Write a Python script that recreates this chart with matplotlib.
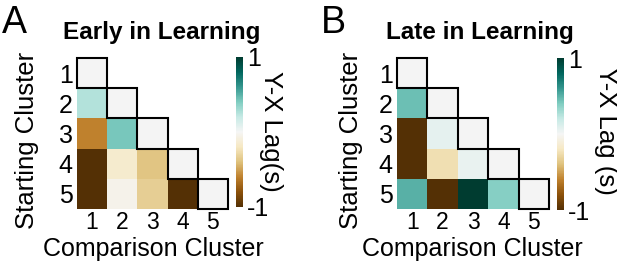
import numpy as np
import matplotlib
matplotlib.use("Agg")
import matplotlib.pyplot as plt
from matplotlib.patches import Rectangle

plt.rcParams['font.family'] = ['Liberation Sans', 'DejaVu Sans']

clusters = ["1", "2", "3", "4", "5"]
nan = np.nan
early_lag = [
    [0.0, nan, nan, nan, nan],
    [0.25, 0.0, nan, nan, nan],
    [-0.6, 0.42, 0.0, nan, nan],
    [-1.0, -0.15, -0.38, 0.0, nan],
    [-1.0, -0.04, -0.33, -1.0, 0.0],
]
late_lag = [
    [0.0, nan, nan, nan, nan],
    [0.45, 0.0, nan, nan, nan],
    [-1.0, 0.07, 0.0, nan, nan],
    [-1.0, -0.25, 0.05, 0.0, nan],
    [0.5, -1.0, 1.0, 0.38, 0.0],
]
titles = ["Early in Learning", "Late in Learning"]
panel_letters = ["A", "B"]
cbar_labels = ["Y-X Lag(s)", "Y-X Lag (s)"]

W, H = 617, 265
fig = plt.figure(figsize=(W / 100, H / 100), dpi=100)

def px_axes(x0, y0, x1, y1):
    return fig.add_axes([x0 / W, 1 - y1 / H, (x1 - x0) / W, (y1 - y0) / H])

cmap = plt.get_cmap("BrBG").copy()
cmap.set_bad("white")

layouts = [
    dict(ax=(77, 58, 228, 209), cax=(236, 57, 243, 207), letter=(14, 23), title=162,
         ylab=27, xlab=153, clab=271),
    dict(ax=(397, 58, 549, 209), cax=(557, 58, 564, 210), letter=(333, 23), title=480,
         ylab=351, xlab=472, clab=606),
]

for data, title, letter, clab, L in zip([early_lag, late_lag], titles, panel_letters,
                                         cbar_labels, layouts):
    ax = px_axes(*L["ax"])
    arr = np.ma.masked_invalid(np.array(data, dtype=float))
    im = ax.imshow(arr, cmap=cmap, vmin=-1, vmax=1, aspect="auto",
                   interpolation="nearest")
    for i in range(len(clusters)):
        ax.add_patch(Rectangle((i - 0.5, i - 0.5), 1, 1, fill=False,
                               edgecolor="black", lw=1.5, clip_on=False, zorder=3))
    ax.set_xticks(range(len(clusters)))
    ax.set_xticklabels(clusters, fontsize=16.5)
    ax.set_yticks(range(len(clusters)))
    ax.set_yticklabels(clusters, fontsize=18)
    ax.tick_params(axis="y", length=0, pad=3)
    ax.tick_params(axis="x", length=0, pad=1.5)
    for s in ax.spines.values():
        s.set_visible(False)
    ax.set_xlim(-0.5, 4.5)
    ax.set_ylim(4.5, -0.5)

    cax = px_axes(*L["cax"])
    cb = fig.colorbar(im, cax=cax, ticks=[-1, 1])
    cb.outline.set_visible(False)
    cb.ax.set_yticklabels(["-1", "1"], fontsize=18)
    cb.ax.tick_params(length=0, pad=3)

    fig.text(L["letter"][0] / W, 1 - L["letter"][1] / H, letter, fontsize=27,
             ha="center", va="center")
    fig.text(L["title"] / W, 1 - 32 / H, title, fontsize=17.5, fontweight="bold",
             ha="center", va="center")
    fig.text(L["ylab"] / W, 1 - 140 / H, "Starting Cluster", fontsize=18.5,
             rotation=90, ha="center", va="center")
    fig.text(L["xlab"] / W, 1 - 256 / H, "Comparison Cluster", fontsize=18,
             ha="center", va="baseline")
    fig.text(L["clab"] / W, 1 - 131 / H, clab, fontsize=18.5, rotation=270,
             ha="center", va="center")

fig.savefig("out.png", dpi=100)
